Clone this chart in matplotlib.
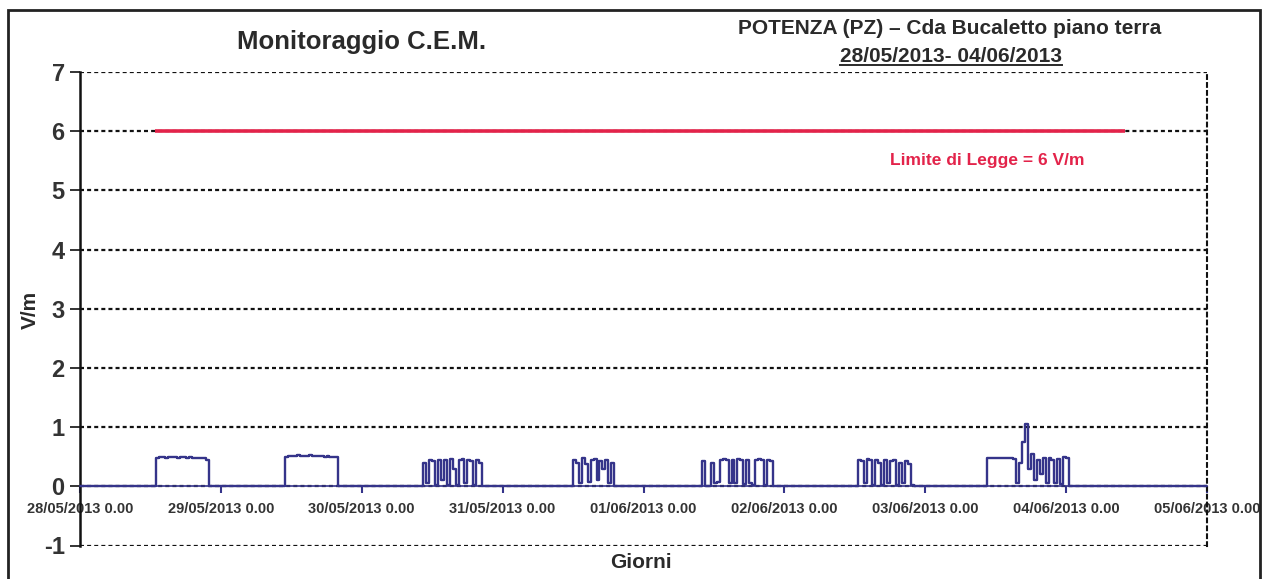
import matplotlib
matplotlib.use("Agg")
import matplotlib.pyplot as plt
import numpy as np
from matplotlib.patches import Rectangle
from matplotlib.lines import Line2D

plt.rcParams['font.family'] = ['Liberation Sans Narrow', 'Liberation Sans', 'DejaVu Sans']
plt.rcParams['font.weight'] = 'bold'
plt.rcParams['axes.unicode_minus'] = False

# ---------------- data ----------------
day_labels = ["28/05/2013 0.00", "29/05/2013 0.00", "30/05/2013 0.00", "31/05/2013 0.00",
              "01/06/2013 0.00", "02/06/2013 0.00", "03/06/2013 0.00", "04/06/2013 0.00",
              "05/06/2013 0.00"]
y_ticks = [-1, 0, 1, 2, 3, 4, 5, 6, 7]

step_h = 0.5  # sampling interval of the readings (hours)

# start hour (since 28/05 00:00) of each daytime block of readings
block_start_h = [12.5, 34.5, 58.0, 83.5, 105.5, 132.0, 154.0]
block1 = [0, 0.48, 0.49, 0.49, 0.48, 0.49, 0.49, 0.49, 0.48, 0.49, 0.49, 0.48, 0.49,
          0.48, 0.48, 0.48, 0.47, 0.47, 0.45, 0]
block2 = [0, 0.50, 0.51, 0.51, 0.52, 0.53, 0.52, 0.51, 0.52, 0.53, 0.52, 0.51, 0.52,
          0.51, 0.50, 0.51, 0.50, 0.50, 0.49, 0]
block3 = [0, 0.40, 0.05, 0.45, 0.42, 0.03, 0.45, 0.10, 0.44, 0.02, 0.46, 0.30, 0.02,
          0.44, 0.46, 0.05, 0.45, 0.43, 0.02, 0.44, 0.40, 0]
block4 = [0, 0.45, 0.40, 0.05, 0.47, 0.38, 0.08, 0.45, 0.46, 0.10, 0.43, 0.30, 0.45,
          0.05, 0.40, 0]
block5 = [0, 0.42, 0, 0, 0.40, 0.05, 0.08, 0.44, 0.46, 0.45, 0.05, 0.44, 0.06, 0.46,
          0.45, 0.04, 0.45, 0.05, 0.02, 0.45, 0.46, 0.44, 0.03, 0.45, 0.42, 0]
block6 = [0, 0.45, 0.42, 0.05, 0.46, 0.44, 0.03, 0.45, 0.40, 0.02, 0.44, 0.05, 0.43,
          0.45, 0.03, 0.40, 0.05, 0.42, 0.38, 0.02, 0]
block7 = [0, 0.47, 0.48, 0.47, 0.47, 0.48, 0.47, 0.47, 0.48, 0.47, 0.46, 0.05, 0.40,
          0.75, 1.06, 0.30, 0.55, 0.10, 0.45, 0.20, 0.48, 0.05, 0.47, 0.45, 0.06, 0.46,
          0.04, 0.50, 0.48, 0]
blocks = [block1, block2, block3, block4, block5, block6, block7]

range_h = [0, 192]           # 28/05 00:00 -> 05/06 00:00
limit_h = [12.75, 178.0]     # extent of the legal-limit line
limit_v = [6, 6]

# ---------------- build series ----------------
t = [range_h[0]]
v = [0.0]
for s, b in zip(block_start_h, blocks):
    for i, val in enumerate(b):
        t.append(s + i * step_h)
        v.append(val)
t.append(range_h[1])
v.append(0.0)

W, H = 1263, 579
fig = plt.figure(figsize=(W / 100, H / 100), dpi=100)
fig.patch.set_facecolor('white')

ax = fig.add_axes([80 / W, 1 - 545.5 / H, (1207 - 80) / W, (545.5 - 72) / H])
ax.set_xlim(range_h)
ax.set_ylim(-1, 7)

ax.plot(t, v, color='#35348a', lw=1.7, zorder=3, drawstyle='steps-post')
ax.plot(limit_h, limit_v, color='#e3234a', lw=2.6, zorder=3, solid_capstyle='butt')

# gridlines
ax.set_yticks(y_ticks)
ax.yaxis.grid(True, linestyle=(0, (1.8, 1.4)), color='#111111', lw=1.6)
ax.set_axisbelow(True)

# spines
ax.spines['top'].set_visible(False)
ax.spines['left'].set_linewidth(1.8)
ax.spines['left'].set_color('#111111')
ax.spines['right'].set_linestyle((0, (1.8, 2.0)))
ax.spines['right'].set_linewidth(1.5)
ax.spines['right'].set_color('#111111')
ax.spines['bottom'].set_position(('data', 0))
ax.spines['bottom'].set_color('#35348a')
ax.spines['bottom'].set_linewidth(1.2)

ax.set_xticks([range_h[0] + 24 * i for i in range(len(day_labels))])
ax.set_xticklabels(day_labels, fontsize=10.5, color='#333333', fontweight='bold')
ax.tick_params(axis='x', direction='out', length=5, width=1.5, color='#35348a', pad=6)
ax.tick_params(axis='y', direction='out', length=7, width=1.2, color='#111111',
               labelsize=17, labelcolor='#333333', pad=4)
for lab in ax.get_yticklabels():
    lab.set_fontweight('bold')

# texts
fig.text(362 / W, 1 - 42 / H, "Monitoraggio C.E.M.", ha='center', va='center',
         fontsize=18.5, color='#2a2a2a', fontweight='bold')
fig.text(950 / W, 1 - 28 / H, "POTENZA (PZ) \u2013 Cda Bucaletto piano terra", ha='center',
         va='center', fontsize=15, color='#2a2a2a', fontweight='bold')
t2 = fig.text(951 / W, 1 - 57 / H, "28/05/2013- 04/06/2013", ha='center', va='center',
              fontsize=15, color='#2a2a2a', fontweight='bold')
fig.text(987 / W, 1 - 161 / H, "Limite di Legge = 6 V/m", ha='center', va='center',
         fontsize=12.5, color='#e3234a', fontweight='bold')
fig.text(30 / W, 1 - 310 / H, "V/m", ha='center', va='center', rotation=90,
         fontsize=15, color='#2a2a2a', fontweight='bold')
fig.text(641 / W, 1 - 563 / H, "Giorni", ha='center', va='center',
         fontsize=15, color='#2a2a2a', fontweight='bold')

# underline of the date line
fig.canvas.draw()
bb = t2.get_window_extent().transformed(fig.transFigure.inverted())
fig.add_artist(Line2D([bb.x0, bb.x1], [bb.y0 + 0.002, bb.y0 + 0.002],
                      transform=fig.transFigure, color='#2a2a2a', lw=1.4))

# outer chart frame
fig.add_artist(Rectangle((8 / W, -0.05), (1260 - 8) / W, 1 - 10 / H + 0.05,
                         transform=fig.transFigure, fill=False, edgecolor='#222222',
                         lw=2.0, clip_on=False))

fig.savefig("out.png", dpi=100, facecolor='white')
